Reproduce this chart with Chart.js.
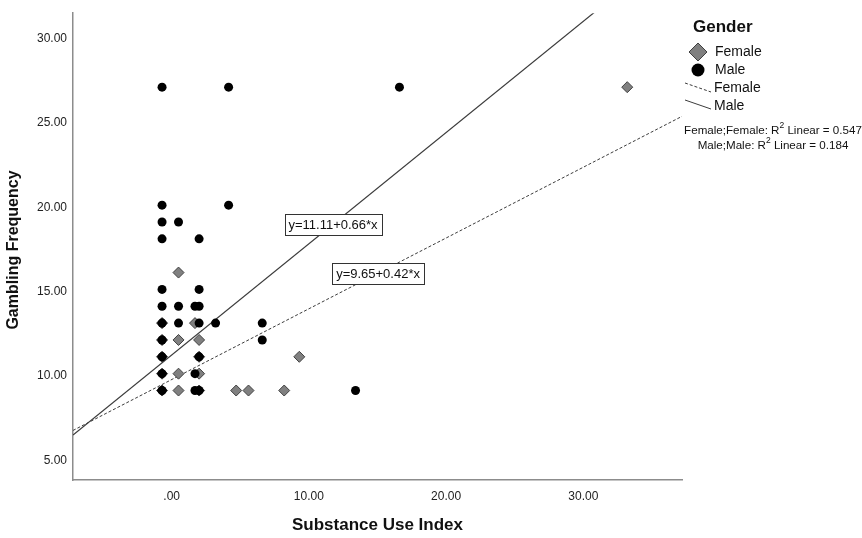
<!DOCTYPE html>
<html>
<head>
<meta charset="utf-8">
<script src="https://cdn.jsdelivr.net/npm/chart.js@4.4.1/dist/chart.umd.min.js"></script>
<style>
  html, body { margin: 0; padding: 0; background: #fff; }
</style>
</head>
<body>
<canvas id="scatter" width="862" height="538"></canvas>
<script>
// points
const femaleX = [-0.7, -0.7, -0.7, -0.7, -0.7, 0.5, 0.5, 0.5, 0.5, 1.7, 2.0, 2.0, 2.0, 2.0, 4.7, 5.6, 8.2, 9.3, 33.2];
const femaleY = [13, 12, 11, 10, 9, 16, 12, 10, 9, 13, 12, 11, 10, 9, 9, 9, 9, 11, 27];

const maleX = [-0.7, -0.7, -0.7, -0.7, -0.7, -0.7, -0.7, -0.7, -0.7, -0.7, -0.7,
               0.5, 0.5, 0.5, 1.7, 1.7, 1.7, 2.0, 2.0, 2.0, 2.0, 2.0, 2.0,
               3.2, 4.15, 4.15, 6.6, 6.6, 13.4, 16.6];
const maleY = [27, 20, 19, 18, 15, 14, 13, 12, 11, 10, 9,
               19, 14, 13, 14, 10, 9, 18, 15, 14, 13, 11, 9,
               13, 27, 20, 13, 12, 9, 27];

// fit lines (female, male)
const fitNames = ['Female', 'Male'];
const fitIntercepts = [9.65, 11.11];
const fitSlopes = [0.42, 0.66];
const fitR2 = ['0.547', '0.184'];

const xTickValues = [0, 10, 20, 30];
const yTickValues = [5, 10, 15, 20, 25, 30];

const X_MIN = -7.19, X_MAX = 37.19;
const Y_MIN = 3.69, Y_MAX = 31.39;

const FONT = "'Liberation Sans', Arial, sans-serif";
const INK = '#3c3c3c';

const toPoints = (xs, ys) => xs.map((x, i) => ({ x: x, y: ys[i] }));
const malePoints = toPoints(maleX, maleY);
const femalePoints = toPoints(femaleX, femaleY);

// where a female and a male case sit on the same spot SPSS shows a black diamond
const femaleFill = femalePoints.map(p =>
    malePoints.some(m => m.x === p.x && m.y === p.y) ? '#000' : '#808080');

const fitLine = i => [
    { x: X_MIN, y: fitIntercepts[i] + fitSlopes[i] * X_MIN },
    { x: X_MAX, y: fitIntercepts[i] + fitSlopes[i] * X_MAX }
];

const fmt = v => v === 0 ? '.00' : v.toFixed(2);

const overlay = {
    id: 'overlay',
    afterDraw(chart) {
        const ctx = chart.ctx;
        const xs = chart.scales.x, ys = chart.scales.y;
        ctx.save();

        // y axis title
        ctx.save();
        ctx.translate(14, 250);
        ctx.rotate(-Math.PI / 2);
        ctx.font = 'bold 16px ' + FONT;
        ctx.fillStyle = '#111';
        ctx.textAlign = 'center';
        ctx.textBaseline = 'middle';
        ctx.fillText('Gambling Frequency', 0, 0);
        ctx.restore();

        // equation boxes on the lines
        const boxAt = [15.04, 11.76];
        [1, 0].forEach(i => {
            const vx = boxAt[i];
            const px = xs.getPixelForValue(vx);
            const py = ys.getPixelForValue(fitIntercepts[i] + fitSlopes[i] * vx);
            const label = 'y=' + fitIntercepts[i].toFixed(2) + '+' + fitSlopes[i].toFixed(2) + '*x';
            ctx.font = '13px ' + FONT;
            const w = Math.round(ctx.measureText(label).width + 8);
            const h = 21;
            const bx = Math.round(px - w / 2) + 0.5, by = Math.round(py - h / 2) + 0.5;
            ctx.fillStyle = '#fff';
            ctx.fillRect(bx, by, w, h);
            ctx.strokeStyle = '#333';
            ctx.lineWidth = 1;
            ctx.strokeRect(bx, by, w, h);
            ctx.fillStyle = '#111';
            ctx.textAlign = 'center';
            ctx.textBaseline = 'middle';
            ctx.fillText(label, px, py + 1);
        });

        // legend
        ctx.textAlign = 'left';
        ctx.textBaseline = 'middle';
        ctx.fillStyle = '#111';
        ctx.font = 'bold 17px ' + FONT;
        ctx.fillText('Gender', 693, 27);

        ctx.font = '14px ' + FONT;
        // diamond
        ctx.beginPath();
        ctx.moveTo(698, 43); ctx.lineTo(707, 52); ctx.lineTo(698, 61); ctx.lineTo(689, 52);
        ctx.closePath();
        ctx.fillStyle = '#808080';
        ctx.fill();
        ctx.strokeStyle = '#404040';
        ctx.stroke();
        ctx.fillStyle = '#111';
        ctx.fillText(fitNames[0], 715, 52);
        // dot
        ctx.beginPath();
        ctx.arc(698, 70, 6.5, 0, Math.PI * 2);
        ctx.fillStyle = '#000';
        ctx.fill();
        ctx.fillStyle = '#111';
        ctx.fillText(fitNames[1], 715, 70);
        // line keys
        ctx.strokeStyle = INK;
        ctx.lineWidth = 1;
        ctx.setLineDash([3, 2]);
        ctx.beginPath(); ctx.moveTo(685, 83); ctx.lineTo(711, 92); ctx.stroke();
        ctx.setLineDash([]);
        ctx.beginPath(); ctx.moveTo(685, 100); ctx.lineTo(711, 109); ctx.stroke();
        ctx.fillText(fitNames[0], 714, 88);
        ctx.fillText(fitNames[1], 714, 106);

        // R squared notes
        const big = '11.6px ' + FONT, small = '8.5px ' + FONT;
        const r2Line = (name, r2, cy) => {
            ctx.font = big;
            const a = name + ';' + name + ': R';
            const b = ' Linear = ' + r2;
            const wa = ctx.measureText(a).width;
            const wb = ctx.measureText(b).width;
            ctx.font = small;
            const ws = ctx.measureText('2').width;
            let x = 773 - (wa + ws + wb) / 2;
            ctx.font = big;
            ctx.fillText(a, x, cy);
            x += wa;
            ctx.font = small;
            ctx.fillText('2', x, cy - 5);
            x += ws;
            ctx.font = big;
            ctx.fillText(b, x, cy);
        };
        r2Line(fitNames[0], fitR2[0], 131);
        r2Line(fitNames[1], fitR2[1], 146);

        ctx.restore();
    }
};

new Chart(document.getElementById('scatter'), {
    type: 'scatter',
    data: {
        datasets: [
            {
                label: 'Male',
                data: malePoints,
                pointStyle: 'circle',
                pointRadius: 4.5,
                pointBackgroundColor: '#000',
                pointBorderColor: '#000',
                pointBorderWidth: 0,
                order: 1
            },
            {
                label: 'Female',
                data: femalePoints,
                pointStyle: 'rectRot',
                pointRadius: 5.5,
                pointBackgroundColor: femaleFill,
                pointBorderColor: '#404040',
                pointBorderWidth: 1,
                order: 2
            },
            {
                label: 'Male fit',
                type: 'line',
                data: fitLine(1),
                borderColor: INK,
                borderWidth: 1.2,
                pointRadius: 0,
                fill: false,
                order: 3
            },
            {
                label: 'Female fit',
                type: 'line',
                data: fitLine(0),
                borderColor: INK,
                borderWidth: 1,
                borderDash: [3, 2],
                pointRadius: 0,
                fill: false,
                order: 4
            }
        ]
    },
    options: {
        responsive: false,
        animation: false,
        events: [],
        layout: { autoPadding: false, padding: { left: 0, right: 180, top: 9, bottom: 0 } },
        plugins: {
            legend: { display: false },
            tooltip: { enabled: false }
        },
        scales: {
            x: {
                type: 'linear',
                min: X_MIN,
                max: X_MAX,
                afterBuildTicks: axis => { axis.ticks = xTickValues.map(v => ({ value: v })); },
                afterFit: axis => { axis.height = 58; },
                grid: { display: false, drawTicks: false },
                border: { display: true, color: '#8c8c8c', width: 1.5 },
                ticks: {
                    padding: 9,
                    color: '#222',
                    font: { family: FONT, size: 12 },
                    callback: v => fmt(v)
                },
                title: {
                    display: true,
                    text: 'Substance Use Index',
                    color: '#111',
                    font: { family: FONT, size: 17, weight: 'bold' },
                    padding: { top: 0, bottom: 2 }
                }
            },
            y: {
                type: 'linear',
                min: Y_MIN,
                max: Y_MAX,
                afterBuildTicks: axis => { axis.ticks = yTickValues.map(v => ({ value: v })); },
                afterFit: axis => { axis.width = 73; },
                grid: { display: false, drawTicks: false },
                border: { display: true, color: '#8c8c8c', width: 1.5 },
                ticks: {
                    padding: 6,
                    labelOffset: 2.3,
                    color: '#222',
                    font: { family: FONT, size: 12 },
                    callback: v => fmt(v)
                }
            }
        }
    },
    plugins: [overlay]
});
</script>
</body>
</html>
